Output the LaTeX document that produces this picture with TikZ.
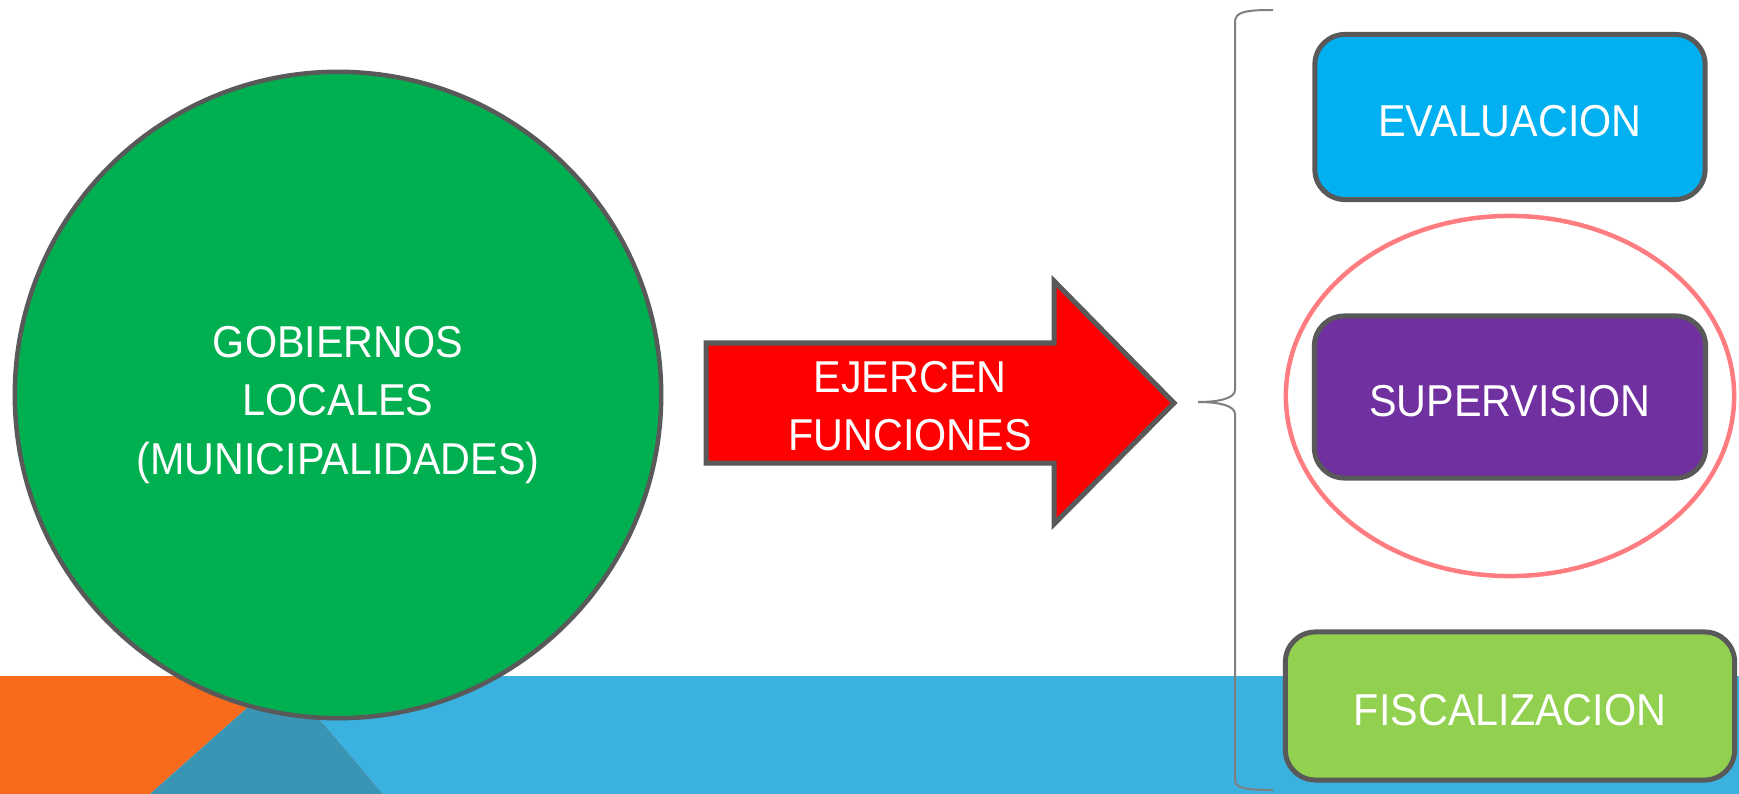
\documentclass[tikz,border=0pt]{standalone}
\usepackage{fontspec}
\setmainfont[FakeStretch=0.925]{Liberation Sans}
\usetikzlibrary{shapes.geometric}

\definecolor{borde}{HTML}{595959}
\definecolor{naranja}{HTML}{F96B1C}
\definecolor{petroleo}{HTML}{3A95B5}
\definecolor{celeste}{HTML}{3AB1DF}
\definecolor{verdeoscuro}{HTML}{00B050}
\definecolor{azulcaja}{HTML}{00B0F0}
\definecolor{moradocaja}{HTML}{7030A0}
\definecolor{verdecaja}{HTML}{92D050}
\definecolor{salmon}{HTML}{FF7C80}
\definecolor{llavegris}{HTML}{7F7F7F}

\newcommand{\rotulo}{\fontsize{12.7}{16.7}\selectfont}

\begin{document}
\begin{tikzpicture}[x=0.01cm, y=-0.01cm]

  \tikzstyle{caja} = [rectangle, rounded corners=0.3cm, draw=borde, line width=0.05cm, text=white, font=\rotulo, text centered, text height=0.38cm, text depth=0cm]
  \tikzstyle{texto} = [text=white, font=\rotulo, align=center]
  \tikzstyle{llave} = [draw=llavegris, line width=0.02cm]

  \useasboundingbox (0,0) rectangle (1739,794);

  % franja inferior
  \fill[naranja] (0,676) -- (283,676) -- (150,794) -- (0,794) -- cycle;
  \fill[celeste] (283,676) -- (1739,676) -- (1739,794) -- (383,794) -- cycle;
  \fill[petroleo] (283,676) -- (383,794) -- (150,794) -- cycle;

  \node (gobiernos) [circle, minimum size=6.46cm, draw=borde, line width=0.045cm, fill=verdeoscuro] at (338,395) {};
  \node (gobtexto) [texto] at (338,405) {GOBIERNOS\\LOCALES\\(MUNICIPALIDADES)};

  \filldraw[fill=red, draw=borde, line width=0.05cm] (706,343) -- (1054,343) -- (1054,281) -- (1174,403) -- (1054,524) -- (1054,463) -- (706,463) -- cycle;
  \node (ejercen) [texto] at (910,406) {EJERCEN\\FUNCIONES};

  \draw[llave] (1273,10) .. controls (1245,10) and (1235,12) .. (1235,22) -- (1235,390)
    .. controls (1235,398) and (1220,402) .. (1198,402)
    .. controls (1220,402) and (1235,406) .. (1235,414) -- (1235,780)
    .. controls (1235,788) and (1245,790) .. (1273,790);

  \node (evaluacion) [caja, fill=azulcaja, minimum width=3.90cm, minimum height=1.65cm] at (1510,117) {EVALUACION};
  \node (supervision) [caja, fill=moradocaja, minimum width=3.91cm, minimum height=1.62cm] at (1510,397) {SUPERVISION};
  \node (fiscalizacion) [caja, fill=verdecaja, minimum width=4.49cm, minimum height=1.48cm] at (1510,706) {FISCALIZACION};

  \node (resalte) [ellipse, draw=salmon, line width=0.045cm, minimum width=4.48cm, minimum height=3.60cm] at (1510,396) {};

\end{tikzpicture}
\end{document}
